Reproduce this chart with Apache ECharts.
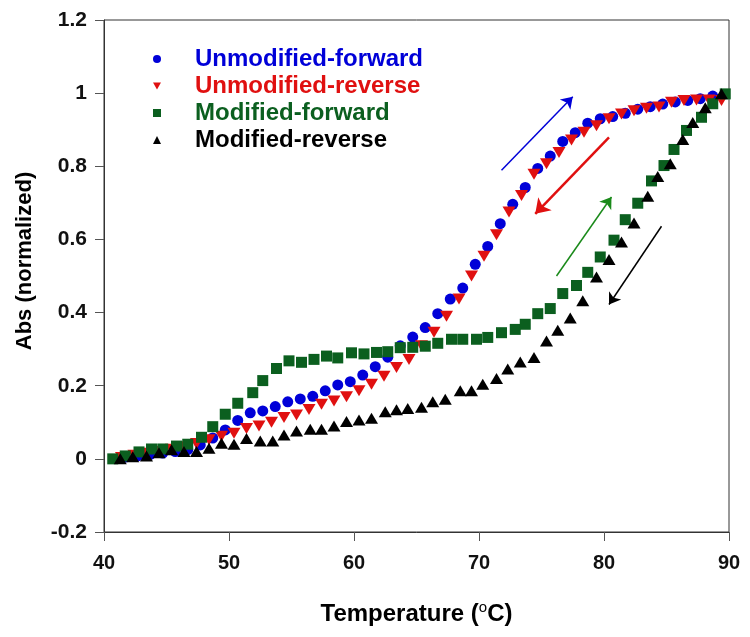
<!DOCTYPE html>
<html>
<head>
<meta charset="utf-8">
<script src="https://cdn.jsdelivr.net/npm/echarts@6/dist/echarts.min.js"></script>
<style>
  html, body { margin: 0; padding: 0; background: #fff; }
  #chart { width: 750px; height: 637px; }
</style>
</head>
<body>
<div id="chart"></div>
<script>
// Unmodified-forward (blue circles)
var unmodFwdX = [41.7, 42.7, 43.7, 44.7, 45.7, 46.7, 47.7, 48.7, 49.7, 50.7, 51.7, 52.7, 53.7, 54.7, 55.7, 56.7,
    57.7, 58.7, 59.7, 60.7, 61.7, 62.7, 63.7, 64.7, 65.7, 66.7, 67.7, 68.7, 69.7, 70.7, 71.7, 72.7,
    73.7, 74.7, 75.7, 76.7, 77.7, 78.7, 79.7, 80.7, 81.7, 82.7, 83.7, 84.7, 85.7, 86.7, 87.7, 88.7];
var unmodFwdY = [0.005, 0.008, 0.012, 0.016, 0.02, 0.025, 0.038, 0.057, 0.079, 0.105, 0.126, 0.131, 0.143, 0.156, 0.164, 0.171,
    0.186, 0.202, 0.211, 0.229, 0.252, 0.278, 0.309, 0.333, 0.359, 0.397, 0.437, 0.467, 0.532, 0.581, 0.643, 0.696,
    0.742, 0.794, 0.828, 0.868, 0.892, 0.918, 0.930, 0.936, 0.945, 0.956, 0.963, 0.970, 0.976, 0.980, 0.985, 0.992];

// Unmodified-reverse (red down triangles)
var unmodRevX = [41.4, 42.4, 43.4, 44.4, 45.4, 46.4, 47.4, 48.4, 49.4, 50.4, 51.4, 52.4, 53.4, 54.4, 55.4, 56.4,
    57.4, 58.4, 59.4, 60.4, 61.4, 62.4, 63.4, 64.4, 65.4, 66.4, 67.4, 68.4, 69.4, 70.4, 71.4, 72.4,
    73.4, 74.4, 75.4, 76.4, 77.4, 78.4, 79.4, 80.4, 81.4, 82.4, 83.4, 84.4, 85.4, 86.4, 87.4, 88.4, 89.4];
var unmodRevY = [0.004, 0.01, 0.015, 0.02, 0.026, 0.033, 0.042, 0.052, 0.062, 0.07, 0.083, 0.09, 0.10, 0.113, 0.12, 0.135,
    0.149, 0.158, 0.17, 0.186, 0.204, 0.226, 0.25, 0.272, 0.309, 0.346, 0.39, 0.437, 0.50, 0.554, 0.613, 0.675,
    0.72, 0.778, 0.807, 0.838, 0.872, 0.893, 0.911, 0.93, 0.943, 0.952, 0.959, 0.962, 0.975, 0.98, 0.981, 0.981, 0.98];

// Modified-forward (green squares)
var modFwdX = [40.7, 41.7, 42.8, 43.8, 44.7, 45.8, 46.7, 47.8, 48.7, 49.7, 50.7, 51.9, 52.7, 53.8, 54.8, 55.8, 56.8,
    57.8, 58.7, 59.8, 60.8, 61.8, 62.7, 63.7, 64.7, 65.7, 66.7, 67.8, 68.7, 69.8, 70.7, 71.8, 72.9,
    73.7, 74.7, 75.7, 76.7, 77.8, 78.7, 79.7, 80.8, 81.7, 82.7, 83.8, 84.8, 85.6, 86.6, 87.8, 88.7, 89.7];
var modFwdY = [0, 0.008, 0.019, 0.027, 0.027, 0.035, 0.04, 0.059, 0.088, 0.122, 0.152, 0.181, 0.214, 0.247, 0.268, 0.264, 0.272,
    0.281, 0.276, 0.29, 0.287, 0.291, 0.293, 0.304, 0.305, 0.308, 0.316, 0.327, 0.327, 0.327, 0.332, 0.345, 0.354,
    0.368, 0.397, 0.411, 0.452, 0.474, 0.51, 0.552, 0.598, 0.654, 0.699, 0.76, 0.802, 0.846, 0.898, 0.934, 0.971, 0.998];

// Modified-reverse (black up triangles)
var modRevX = [41.3, 42.3, 43.4, 44.4, 45.4, 46.4, 47.4, 48.4, 49.4, 50.4, 51.4, 52.5, 53.5, 54.4, 55.4, 56.5,
    57.4, 58.4, 59.4, 60.4, 61.4, 62.5, 63.4, 64.3, 65.4, 66.3, 67.3, 68.5, 69.4, 70.3, 71.4, 72.3,
    73.3, 74.4, 75.4, 76.3, 77.3, 78.3, 79.4, 80.4, 81.4, 82.4, 83.5, 84.3, 85.3, 86.3, 87.1, 88.1, 89.4];
var modRevY = [0, 0.006, 0.008, 0.017, 0.025, 0.02, 0.02, 0.029, 0.043, 0.04, 0.056, 0.049, 0.049, 0.065, 0.076, 0.081,
    0.081, 0.09, 0.102, 0.106, 0.111, 0.129, 0.134, 0.138, 0.141, 0.156, 0.163, 0.186, 0.186, 0.204, 0.22, 0.246,
    0.265, 0.277, 0.322, 0.352, 0.385, 0.432, 0.497, 0.545, 0.593, 0.645, 0.718, 0.772, 0.807, 0.873, 0.92, 0.96, 0.998];

// arrows: [startX, startY, endX, endY]
var arrowBlue = [71.8, 0.789, 77.5, 0.99];
var arrowRed = [80.4, 0.879, 74.5, 0.670];
var arrowGreen = [76.2, 0.50, 80.6, 0.716];
var arrowBlack = [84.6, 0.636, 80.4, 0.422];

var names = ['Unmodified-forward', 'Unmodified-reverse', 'Modified-forward', 'Modified-reverse'];
var colors = ['#0000d8', '#e01010', '#0b5f1f', '#000000'];
var legendIcons = ['circle', 'path://M0,0L10,0L5,9Z', 'rect', 'triangle'];

var FONT = 'Arial, "Liberation Sans", sans-serif';

function pairs(xs, ys) {
    var out = [];
    for (var i = 0; i < xs.length; i++) out.push([xs[i], ys[i]]);
    return out;
}

function arrow(a, color, width, size) {
    return {
        silent: true,
        symbol: ['none', 'arrow'],
        symbolSize: size,
        label: { show: false },
        lineStyle: { color: color, width: width, type: 'solid' },
        data: [[{ coord: [a[0], a[1]] }, { coord: [a[2], a[3]] }]]
    };
}

var myChart = echarts.init(document.getElementById('chart'));

var option = {
    animation: false,
    backgroundColor: '#fff',
    grid: {
        left: 104, right: 21, top: 20, bottom: 105,
        show: true, borderColor: '#333', borderWidth: 1
    },
    legend: {
        orient: 'vertical',
        left: 148, top: 42,
        itemWidth: 8, itemHeight: 8,
        itemGap: 3,
        selectedMode: false,
        data: names.map(function (n, i) {
            return { name: n, icon: legendIcons[i], textStyle: { color: colors[i] } };
        }),
        textStyle: { fontFamily: FONT, fontWeight: 'bold', fontSize: 24, lineHeight: 24, padding: [0, 0, 0, 29] }
    },
    xAxis: {
        type: 'value',
        min: 40, max: 90, interval: 10,
        name: 'Temperature ({sup|o}C)',
        nameLocation: 'middle',
        nameGap: 68,
        nameTextStyle: {
            fontFamily: FONT, fontWeight: 'bold', fontSize: 24, color: '#000', lineHeight: 28,
            rich: { sup: { fontFamily: FONT, fontSize: 15, fontWeight: 'normal', color: '#000', verticalAlign: 'top', lineHeight: 15 } }
        },
        axisLine: { onZero: false, lineStyle: { color: '#333', width: 1 } },
        axisTick: { inside: false, length: 9, lineStyle: { color: '#555' } },
        axisLabel: { fontFamily: FONT, fontWeight: 'bold', fontSize: 20, color: '#111', margin: 21 },
        splitLine: { show: false }
    },
    yAxis: {
        type: 'value',
        min: -0.2, max: 1.2, interval: 0.2,
        name: 'Abs (normalized)',
        nameLocation: 'middle',
        nameGap: 68,
        nameRotate: 90,
        nameTextStyle: { fontFamily: FONT, fontWeight: 'bold', fontSize: 22, color: '#000', padding: [0, 0, 0, 30] },
        axisLine: { show: true, onZero: false, lineStyle: { color: '#333', width: 1 } },
        axisTick: { show: true, inside: false, length: 9, lineStyle: { color: '#555' } },
        axisLabel: {
            fontFamily: FONT, fontWeight: 'bold', fontSize: 21, color: '#111', margin: 17,
            formatter: function (v) { return String(Math.round(v * 10) / 10); }
        },
        splitLine: { show: false }
    },
    series: [
        {
            name: names[0], type: 'scatter', symbol: 'circle', symbolSize: 11,
            itemStyle: { color: colors[0], opacity: 1 },
            data: pairs(unmodFwdX, unmodFwdY),
            markLine: arrow(arrowBlue, colors[0], 1.5, 11)
        },
        {
            name: names[1], type: 'scatter', symbol: 'triangle', symbolRotate: 180, symbolSize: [13, 11],
            itemStyle: { color: colors[1], opacity: 1 },
            data: pairs(unmodRevX, unmodRevY),
            markLine: arrow(arrowRed, colors[1], 2.5, 14)
        },
        {
            name: names[2], type: 'scatter', symbol: 'rect', symbolSize: 11,
            itemStyle: { color: colors[2], opacity: 1 },
            data: pairs(modFwdX, modFwdY),
            markLine: arrow(arrowGreen, '#1a8a1a', 1.5, 11)
        },
        {
            name: names[3], type: 'scatter', symbol: 'triangle', symbolSize: [13, 11],
            itemStyle: { color: colors[3], opacity: 1 },
            data: pairs(modRevX, modRevY),
            markLine: arrow(arrowBlack, colors[3], 1.5, 11)
        }
    ]
};

myChart.setOption(option);
</script>
</body>
</html>
